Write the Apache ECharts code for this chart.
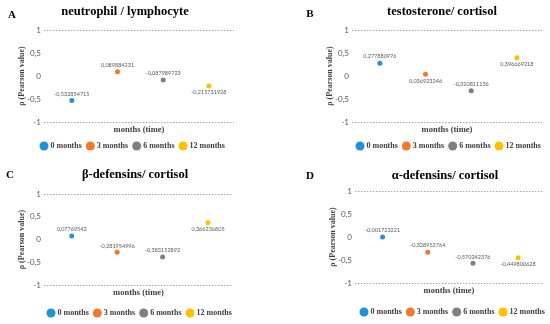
<!DOCTYPE html>
<html><head><meta charset="utf-8">
<script src="https://cdn.jsdelivr.net/npm/echarts@6/dist/echarts.min.js"></script>
<style>html,body{margin:0;padding:0;background:#fff}#c{width:550px;height:324px}</style>
</head><body><div id="c"></div>
<script>
// ---- data ----
const months = ['0 months', '3 months', '6 months', '12 months'];
const titles = ['neutrophil / lymphocyte', 'testosterone/ cortisol', 'β-defensins/ cortisol', 'α-defensins/ cortisol'];
const letters = ['A', 'B', 'C', 'D'];
const yTicks = [-1, -0.5, 0, 0.5, 1];
const valuesA = [-0.532854715, 0.089884231, -0.087989723, -0.215731928];
const valuesB = [0.277880976, 0.036923246, -0.320811136, 0.396669218];
const valuesC = [0.07769542, -0.281954996, -0.383152892, 0.366236805];
const valuesD = [-0.001723221, -0.328952764, -0.570242376, -0.449800628];
const panels = [valuesA, valuesB, valuesC, valuesD];

// ---- style / layout ----
const colors = ['#1E93D6', '#F07A2A', '#7F7F7F', '#FFC000'];
const labelPos = [
  ['top', 'top', 'top', 'bottom'],
  ['top', 'bottom', 'top', 'bottom'],
  ['top', 'top', 'top', 'bottom'],
  ['top', 'top', 'top', 'bottom']
];
const grids = [
  {left: 44, right: 316, top: 30, bottom: 202},
  {left: 352, right: 8, top: 30, bottom: 202},
  {left: 44, right: 317, top: 194, bottom: 39},
  {left: 355, right: 7, top: 191, bottom: 41}
];
const titlePos = [[125, 12], [442, 12], [135, 175], [445, 176]];
const letterPos = [[12, 15], [310, 14], [10, 175], [310, 176]];
const legendPos = [[39.5, 141.5], [355.5, 141.5], [46.5, 308.5], [359.5, 307.5]];
const serif = 'Liberation Serif';
const fmt = v => String(v).replace('.', ',');

const xAxes = [], yAxes = [], series = [], legends = [], graphics = [];
panels.forEach((vals, p) => {
  xAxes.push({
    type: 'value', gridIndex: p, min: -0.61, max: 3.55,
    axisLine: {show: false}, axisTick: {show: false}, axisLabel: {show: false}, splitLine: {show: false},
    name: 'months (time)', nameLocation: 'middle', nameGap: 3, nameMoveOverlap: false,
    nameTextStyle: {fontFamily: serif, fontWeight: 'bold', fontSize: 8.5, color: '#404040', verticalAlign: 'top'}
  });
  yAxes.push({
    type: 'value', gridIndex: p, min: yTicks[0], max: yTicks[yTicks.length - 1], interval: 0.5,
    axisLine: {show: false}, axisTick: {show: false},
    axisLabel: {formatter: fmt, fontFamily: 'Lato', fontSize: 8, color: '#595959', margin: 3},
    splitLine: {show: true, lineStyle: {type: [1.5, 1.5], width: 1, color: ['#A6A6A6', 'transparent', 'transparent', 'transparent', '#A6A6A6']}},
    name: 'ρ (Pearson value)', nameLocation: 'middle', nameGap: 18, nameRotate: 90, nameMoveOverlap: false,
    nameTextStyle: {fontFamily: serif, fontWeight: 'bold', fontSize: 8, color: '#404040'}
  });
  vals.forEach((v, i) => {
    series.push({
      name: months[i], type: 'scatter', xAxisIndex: p, yAxisIndex: p,
      symbolSize: 5, itemStyle: {color: colors[i], opacity: 1},
      data: [[i, v]],
      label: {show: true, position: labelPos[p][i], distance: 1, formatter: d => fmt(d.value[1]),
        fontFamily: 'Lato', fontSize: 5.5, color: '#595959'}
    });
  });
  legends.push({
    data: months, left: legendPos[p][0], top: legendPos[p][1], icon: 'circle', padding: 0,
    width: 230, itemWidth: 9, itemHeight: 9, itemGap: 4, selectedMode: false,
    itemStyle: {opacity: 1},
    textStyle: {fontFamily: serif, fontWeight: 'bold', fontSize: 8, color: '#404040', padding: [0, 0, 0, -3]}
  });
  graphics.push({type: 'text', x: titlePos[p][0], y: titlePos[p][1],
    style: {text: titles[p], textAlign: 'center', textVerticalAlign: 'middle', font: 'bold 12.5px "' + serif + '"', fill: '#000'}});
  graphics.push({type: 'text', x: letterPos[p][0], y: letterPos[p][1],
    style: {text: letters[p], textAlign: 'center', textVerticalAlign: 'middle', font: 'bold 11px "' + serif + '"', fill: '#000'}});
});

const chart = echarts.init(document.getElementById('c'), null, {renderer: 'canvas'});
chart.setOption({
  animation: false,
  color: colors,
  grid: grids,
  xAxis: xAxes,
  yAxis: yAxes,
  legend: legends,
  series: series,
  graphic: graphics
});
</script>
</body></html>
